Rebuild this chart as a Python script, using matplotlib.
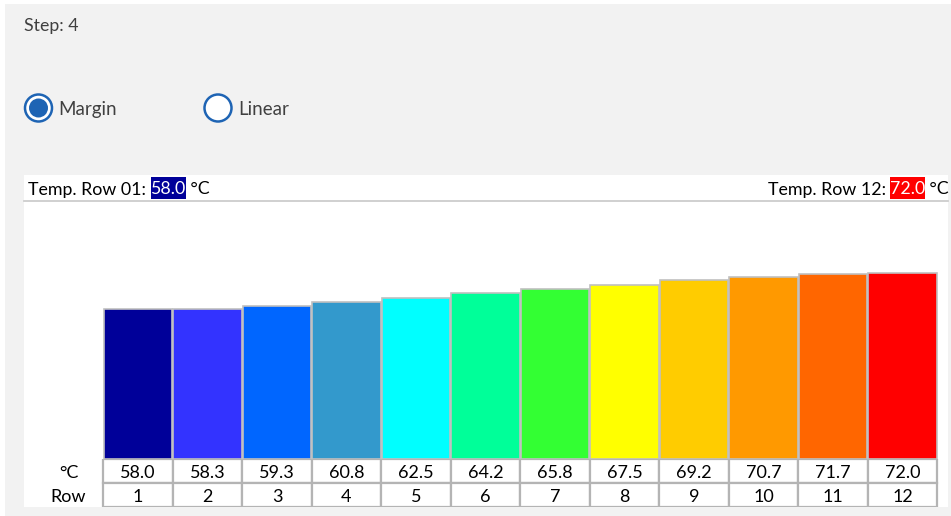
import matplotlib
matplotlib.use("Agg")
import matplotlib.pyplot as plt
from matplotlib.patches import Circle, Rectangle

plt.rcParams['font.family'] = ['Lato', 'DejaVu Sans']

# Data
rows = [1, 2, 3, 4, 5, 6, 7, 8, 9, 10, 11, 12]
temps = [58.0, 58.3, 59.3, 60.8, 62.5, 64.2, 65.8, 67.5, 69.2, 70.7, 71.7, 72.0]
bar_colors = ["#000099", "#3333ff", "#0066ff", "#3399cc", "#00ffff", "#00ff99",
              "#33ff33", "#ffff00", "#ffcc00", "#ff9900", "#ff6600", "#ff0000"]
step_label = "Step: 4"
mode_labels = ["Margin", "Linear"]
selected_mode = "Margin"

W, H = 951, 516
DPI = 100
fig = plt.figure(figsize=(W / DPI, H / DPI), dpi=DPI)
fig.patch.set_facecolor("white")


def frac(x0, y0, x1, y1):
    """Figure-fraction rect from pixel box (top-left origin)."""
    return [x0 / W, 1 - y1 / H, (x1 - x0) / W, (y1 - y0) / H]


# Background overlay in pixel coordinates
bg = fig.add_axes([0, 0, 1, 1], zorder=0)
bg.set_xlim(0, W)
bg.set_ylim(H, 0)
bg.axis("off")
bg.add_patch(Rectangle((5, 4), W - 5, H - 4, facecolor="#f2f2f2", edgecolor="none"))
# white chart panel
bg.add_patch(Rectangle((24, 175), 924, 332, facecolor="white", edgecolor="none"))
bg.plot([24, 948], [201, 201], color="#c8c8c8", lw=1.2)

text_col = "#404040"
bg.text(24, 26, step_label, fontsize=12.8, color=text_col, va="center", ha="left")

accent = "#1e64b4"
for cx, label in zip([38.5, 218], mode_labels):
    bg.add_patch(Circle((cx, 108), 13.5, facecolor="white", edgecolor=accent, lw=1.8))
    if label == selected_mode:
        bg.add_patch(Circle((cx, 108), 9.5, facecolor=accent, edgecolor="none"))
    bg.text(cx + 20, 109.5, label, fontsize=13.5, color=text_col, va="center", ha="left")

# Header with highlighted first / last temperatures
fig.canvas.draw()
renderer = fig.canvas.get_renderer()


def header(x, prefix, value, box_color, anchor="left"):
    y = 189.5
    fs = 12.8
    parts = [(prefix, None), (f"{value:.1f}", box_color), (" °C", None)]
    widths = []
    objs = []
    for s, c in parts:
        t = bg.text(0, y, s, fontsize=fs, va="center", ha="left", color="black")
        bb = t.get_window_extent(renderer)
        widths.append(bb.width)
        objs.append(t)
    total = sum(widths)
    cur = x if anchor == "left" else x - total
    for (s, c), t, w in zip(parts, objs, widths):
        t.set_x(cur)
        if c is not None:
            bg.add_patch(Rectangle((cur, 177), w, 22, facecolor=c, edgecolor="none", zorder=1))
            t.set_color("white")
            t.set_zorder(2)
        cur += w


header(28, "Temp. Row 01: ", temps[0], bar_colors[0], "left")
header(949, "Temp. Row 12: ", temps[-1], bar_colors[-1], "right")

# Bar chart
x = list(range(len(rows)))
px_per = 69.5
c0 = 138.0
xl = (-(c0 - 24) / px_per, (948 - c0) / px_per)

ax = fig.add_axes(frac(24, 201, 948, 459), zorder=2)
ax.patch.set_alpha(0)
ax.bar(x, temps, width=0.99, color=bar_colors, edgecolor="#c0c0c0", linewidth=1.2)
ax.set_xlim(*xl)
ax.set_ylim(0, 100)
ax.axis("off")

# Table beneath the bars
tb = fig.add_axes(frac(24, 459, 948, 507), zorder=2)
tb.patch.set_alpha(0)
tb.set_xlim(*xl)
tb.set_ylim(2, 0)
tb.axis("off")
grid = "#b4b4b4"
for i, (r, t) in enumerate(zip(rows, temps)):
    for j, s in enumerate([f"{t:.1f}", str(r)]):
        tb.add_patch(Rectangle((i - 0.5, j), 1, 1, facecolor="white", edgecolor=grid, lw=1.6))
        tb.text(i, j + 0.6, s, ha="center", va="center", fontsize=13, color="black")
tb.text(-1.0, 0.6, "°C", ha="center", va="center", fontsize=13, color="black")
tb.text(-1.0, 1.6, "Row", ha="center", va="center", fontsize=13, color="black")

fig.savefig("out.png", dpi=DPI)
